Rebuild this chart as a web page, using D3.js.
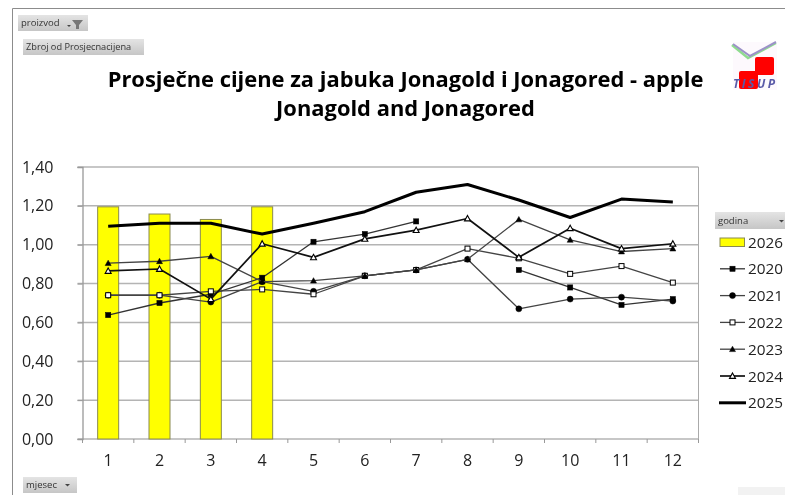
<!DOCTYPE html>
<html><head><meta charset="utf-8">
<script src="https://cdn.jsdelivr.net/npm/d3@7"></script>
<style>html,body{margin:0;padding:0;background:#fff;overflow:hidden}svg{display:block;filter:blur(0.4px)}text{font-family:"Open Sans",sans-serif}</style>
</head><body><svg id="c" width="785" height="495"></svg>
<script>
const months=[1,2,3,4,5,6,7,8,9,10,11,12];
const yTicks=[0,0.2,0.4,0.6,0.8,1.0,1.2,1.4];
const bars2026=[1.195,1.158,1.13,1.195];
const s2020=[0.638,0.70,0.745,0.83,1.015,1.055,1.12,null,0.87,0.78,0.69,0.72];
const s2021=[0.74,0.74,0.705,0.81,0.76,0.84,0.87,0.925,0.67,0.72,0.73,0.71];
const s2022=[0.74,0.74,0.76,0.77,0.745,0.84,0.87,0.98,0.93,0.85,0.89,0.805];
const s2023=[0.905,0.915,0.94,0.81,0.815,0.84,0.87,0.925,1.13,1.025,0.965,0.98];
const s2024=[0.865,0.875,0.72,1.005,0.935,1.03,1.075,1.135,0.935,1.085,0.98,1.005];
const s2025=[1.095,1.11,1.11,1.055,1.11,1.17,1.27,1.31,1.23,1.14,1.235,1.22];
const titleLines=["Prosječne cijene za jabuka Jonagold i Jonagored - apple","Jonagold and Jonagored"];
const series=[
 {name:"2020",v:s2020,m:"square",c:"#333",w:1.3,fill:"#000"},
 {name:"2021",v:s2021,m:"circle",c:"#444",w:1.3,fill:"#000"},
 {name:"2022",v:s2022,m:"open",c:"#444",w:1.3,fill:"#fff"},
 {name:"2023",v:s2023,m:"tri",c:"#444",w:1.3,fill:"#000"},
 {name:"2024",v:s2024,m:"otri",c:"#111",w:1.7,fill:"#fff"},
 {name:"2025",v:s2025,m:null,c:"#000",w:3,fill:"none"}];

const svg=d3.select("#c");
const L=82.5,R=698.5,T=167,B=439;
const x=d3.scaleBand().domain(months).range([L,R]);
const y=d3.scaleLinear().domain([0,1.4]).range([B,T]);

// outer frame
svg.append("path").attr("d","M12.5,495V8.5H785").attr("fill","none").attr("stroke","#8c8c8c").attr("stroke-width",1);
svg.append("rect").attr("x",738).attr("y",487).attr("width",47).attr("height",8).attr("fill","#f2f2f2");

// pivot buttons
const grad=svg.append("defs").append("linearGradient").attr("id","btn").attr("x1",0).attr("x2",0).attr("y1",0).attr("y2",1);
grad.append("stop").attr("offset",0).attr("stop-color","#e4e4e4");
grad.append("stop").attr("offset",1).attr("stop-color","#c6c6c6");
function button(bx,by,w,h,t,size){
  svg.append("rect").attr("x",bx).attr("y",by).attr("width",w).attr("height",h).attr("fill","url(#btn)");
  svg.append("text").attr("x",bx+3).attr("y",by+h/2+3).attr("font-size",size).attr("fill","#333").text(t);
}
button(18,15,70,16,"proizvod",9.5);
svg.append("path").attr("d","M72,20h11l-4,5v4h-3v-4z").attr("fill","#777");
svg.append("path").attr("d","M67,25h4l-2,2z").attr("fill","#444");
button(23,39,121,16,"Zbroj od Prosjecnacijena",9.2);
button(715,212,70,17,"godina",9.5);
svg.append("path").attr("d","M779,220h5l-2.5,2.5z").attr("fill","#444");
button(23,477,54,16,"mjesec",9.5);
svg.append("path").attr("d","M65,484h5l-2.5,2.5z").attr("fill","#444");

// logo
const logo=svg.append("g");
logo.append("rect").attr("x",733).attr("y",42).attr("width",44).attr("height",48).attr("fill","#fdf9fd");
logo.append("path").attr("d","M732,45L748,58L776,43").attr("fill","none").attr("stroke","#8fdc8f").attr("stroke-width",2.5);
logo.append("path").attr("d","M733,44L750,56L776,42").attr("fill","none").attr("stroke","#9c92c8").attr("stroke-width",2);
logo.append("rect").attr("x",755).attr("y",57).attr("width",19).attr("height",18).attr("rx",2).attr("fill","#f00");
logo.append("rect").attr("x",739).attr("y",71).attr("width",19).attr("height",18).attr("rx",2).attr("fill","#f00");
logo.append("text").attr("x",733).attr("y",88).attr("font-size",12).attr("font-weight",700).attr("font-style","italic").attr("fill","#5a5aa8").attr("textLength",42).text("TISUP");

// title
svg.append("g").selectAll("text").data(titleLines).join("text")
  .attr("x",405.5).attr("y",(d,i)=>86.5+i*29.5).attr("text-anchor","middle")
  .attr("font-size",21.9).attr("font-weight",700).attr("fill","#000").text(d=>d);

// gridlines
svg.append("g").selectAll("line").data(yTicks).join("line")
  .attr("x1",L-5).attr("x2",R).attr("y1",d=>y(d)).attr("y2",d=>y(d))
  .attr("stroke","#b4b4b4").attr("stroke-width",1.5);
// right-side border of plot
svg.append("line").attr("x1",R).attr("x2",R).attr("y1",T).attr("y2",B+4).attr("stroke","#aaa");
// axes
const yAxis=svg.append("g").attr("transform",`translate(${L},0)`)
  .call(d3.axisLeft(y).tickValues(yTicks).tickSize(5).tickPadding(24).tickFormat(d=>d.toFixed(2).replace(".",",")));
yAxis.select(".domain").attr("stroke","#999").attr("stroke-width",1.3);
yAxis.selectAll(".tick line").attr("stroke","#999");
yAxis.selectAll("text").attr("font-size",16).attr("fill","#222");
const xAxis=svg.append("g").attr("transform",`translate(0,${B})`)
  .call(d3.axisBottom(x).tickValues(months).tickSize(0).tickPadding(16));
xAxis.select(".domain").remove();
xAxis.selectAll("text").attr("font-size",16).attr("fill","#222");
svg.append("g").selectAll("line").data(d3.range(13)).join("line")
  .attr("x1",d=>L+d*x.step()).attr("x2",d=>L+d*x.step()).attr("y1",B).attr("y2",B+4).attr("stroke","#999");

// bars
const barW=21;
svg.append("g").selectAll("rect").data(bars2026).join("rect")
  .attr("x",(d,i)=>x(months[i])+x.bandwidth()/2-barW/2).attr("width",barW)
  .attr("y",d=>y(d)).attr("height",d=>B-y(d))
  .attr("fill","#ffff00").attr("stroke","#8a8a50").attr("stroke-width",1);

// lines
const line=d3.line().defined(d=>d!=null).x((d,i)=>x(months[i])+x.bandwidth()/2).y(d=>y(d));
function marker(g,kind,cx,cy,fill,scale=1){
  const st=k=>k.attr("fill",fill).attr("stroke","#000");
  if(kind==="square") st(g.append("rect").attr("x",cx-2.6*scale).attr("y",cy-2.6*scale).attr("width",5.2*scale).attr("height",5.2*scale)).attr("stroke-width",.5);
  if(kind==="circle") st(g.append("circle").attr("cx",cx).attr("cy",cy).attr("r",3*scale)).attr("stroke-width",.5);
  if(kind==="open") st(g.append("rect").attr("x",cx-2.5*scale).attr("y",cy-2.5*scale).attr("width",5*scale).attr("height",5*scale)).attr("stroke-width",1);
  if(kind==="tri"||kind==="otri") st(g.append("path").attr("d",`M${cx},${cy-3*scale}L${cx+3*scale},${cy+2.4*scale}H${cx-3*scale}Z`)).attr("stroke-width",kind==="tri"?.5:1.1);
}
series.forEach(s=>{
  const g=svg.append("g");
  g.append("path").attr("d",line(s.v)).attr("fill","none").attr("stroke",s.c).attr("stroke-width",s.w).attr("stroke-linejoin","round");
  if(s.m) s.v.forEach((d,i)=>{ if(d!=null) marker(g,s.m,x(months[i])+x.bandwidth()/2,y(d),s.fill); });
});

// legend
const lg=svg.append("g");
const rowY=i=>242+i*26.8;
lg.append("rect").attr("x",720).attr("y",238).attr("width",24.5).attr("height",8.5).attr("fill","#ffff00").attr("stroke","#8a8a50");
lg.append("text").attr("x",748).attr("y",rowY(0)+5.5).attr("font-size",15.3).attr("fill","#222").text("2026");
series.forEach((s,i)=>{
  const yy=rowY(i+1);
  lg.append("line").attr("x1",s.m?720:719).attr("x2",s.m?745:746).attr("y1",yy).attr("y2",yy).attr("stroke",s.c).attr("stroke-width",s.w);
  if(s.m) marker(lg,s.m,732.5,yy,s.fill);
  lg.append("text").attr("x",748).attr("y",yy+5.5).attr("font-size",15.3).attr("fill","#222").text(s.name);
});
</script></body></html>
